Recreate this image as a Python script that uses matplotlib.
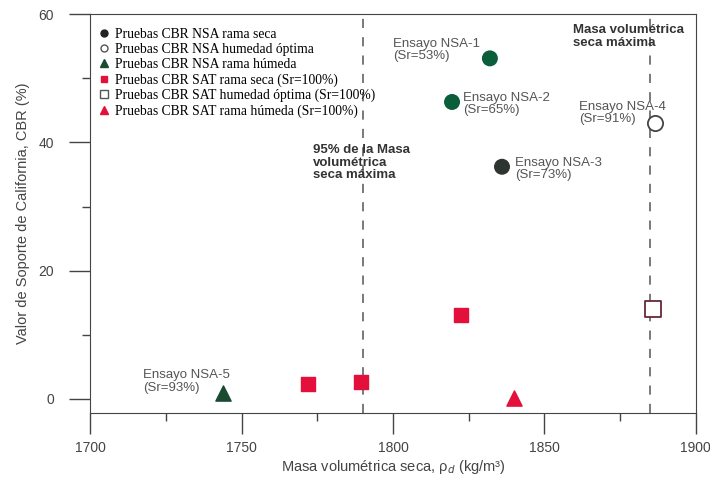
import matplotlib
matplotlib.use('Agg')
import matplotlib.pyplot as plt
from matplotlib.lines import Line2D
from matplotlib.ticker import MultipleLocator

# data
nsa_seca_x = [1832, 1819.5, 1836]
nsa_seca_y = [53.1, 46.3, 36.2]
nsa_seca_c = ['#0b5e3a', '#0b5e3a', '#2e3430']
nsa_opt_x = [1886.5]
nsa_opt_y = [43.0]
nsa_hum_x = [1744]
nsa_hum_y = [1.0]
sat_seca_x = [1772, 1789.5, 1822.5]
sat_seca_y = [2.4, 2.6, 13.1]
sat_opt_x = [1886]
sat_opt_y = [14.0]
sat_hum_x = [1840]
sat_hum_y = [0.2]

lim_95 = 1790
lim_max = 1885

labels = ['Pruebas CBR NSA rama seca',
          'Pruebas CBR NSA humedad óptima',
          'Pruebas CBR NSA rama húmeda',
          'Pruebas CBR SAT rama seca (Sr=100%)',
          'Pruebas CBR SAT humedad óptima (Sr=100%)',
          'Pruebas CBR SAT rama húmeda (Sr=100%)']

ensayos = ['Ensayo NSA-1\n(Sr=53%)', 'Ensayo NSA-2\n(Sr=65%)', 'Ensayo NSA-3\n(Sr=73%)',
           'Ensayo NSA-4\n(Sr=91%)', 'Ensayo NSA-5\n(Sr=93%)']
ensayo_pos = [(1800, 56.3), (1823, 47.9), (1840.3, 37.8), (1861.4, 46.5), (1717.5, 4.6)]

red = '#e3103c'
grey = '#555555'

plt.rcParams['font.family'] = ['Liberation Sans', 'DejaVu Sans']

fig = plt.figure(figsize=(7.1, 4.86), dpi=100)
ax = fig.add_axes([0.127, 0.15, 0.853, 0.821])

ax.axvline(lim_95, color='#555555', lw=1.1, ls=(0, (6, 6)), zorder=1)
ax.axvline(lim_max, color='#555555', lw=1.1, ls=(0, (6, 6)), zorder=1)

ax.scatter(nsa_seca_x, nsa_seca_y, s=110, c=nsa_seca_c, marker='o', zorder=3)
ax.scatter(nsa_opt_x, nsa_opt_y, s=120, facecolors='white', edgecolors='#444444', lw=1.3, marker='o', zorder=3)
ax.scatter(nsa_hum_x, nsa_hum_y, s=120, c='#1b4a32', marker='^', zorder=3)
ax.scatter(sat_seca_x, sat_seca_y, s=110, c=red, marker='s', zorder=3)
ax.scatter(sat_opt_x, sat_opt_y, s=120, facecolors='white', edgecolors='#6a2636', lw=1.3, marker='s', zorder=3)
ax.scatter(sat_hum_x, sat_hum_y, s=120, c=red, marker='^', zorder=3)

for txt, (tx, ty) in zip(ensayos, ensayo_pos):
    ax.text(tx, ty, txt, fontsize=9.5, color=grey, va='top', ha='left', linespacing=1.05)

ax.text(1773.6, 39.8, '95% de la Masa\nvolumétrica\nseca máxima', fontsize=9.5,
        fontweight='bold', color='#333333', va='top', ha='left', linespacing=1.1)
ax.text(1859.4, 58.5, 'Masa volumétrica\nseca máxima', fontsize=9.5,
        fontweight='bold', color='#333333', va='top', ha='left', linespacing=1.1)

handles = [Line2D([], [], ls='', marker='o', color='#222222', ms=5),
           Line2D([], [], ls='', marker='o', mfc='white', mec='#555555', ms=5),
           Line2D([], [], ls='', marker='^', color='#1b4a32', ms=5.5),
           Line2D([], [], ls='', marker='s', color=red, ms=5),
           Line2D([], [], ls='', marker='s', mfc='white', mec='#555555', ms=5.5),
           Line2D([], [], ls='', marker='^', color=red, ms=5.5)]
ax.legend(handles, labels, loc='upper left', bbox_to_anchor=(0.0, 0.99), frameon=False,
          prop={'family': 'Liberation Serif', 'size': 9.8}, handlelength=0.6,
          handletextpad=0.5, labelspacing=0.16, borderaxespad=0.3)

ax.set_xlim(1700, 1900)
ax.set_ylim(-2.2, 60)
ax.xaxis.set_major_locator(MultipleLocator(50))
ax.xaxis.set_minor_locator(MultipleLocator(25))
ax.yaxis.set_major_locator(MultipleLocator(20))
ax.yaxis.set_minor_locator(MultipleLocator(10))
ax.tick_params(which='major', length=15, width=1, color='#444444', labelcolor='#444444',
               labelsize=10)
ax.tick_params(axis='x', which='major', pad=5)
ax.tick_params(axis='y', which='major', pad=11)
ax.tick_params(which='minor', length=6, width=1, color='#444444')
for sp in ax.spines.values():
    sp.set_color('#444444')

ax.set_xlabel('Masa volumétrica seca, ρ$_d$ (kg/m³)', fontsize=10.5, color='#444444', labelpad=2)
ax.set_ylabel('Valor de Soporte de California, CBR (%)', fontsize=10.5, color='#444444', labelpad=6)

fig.savefig('out.png', dpi=100)
